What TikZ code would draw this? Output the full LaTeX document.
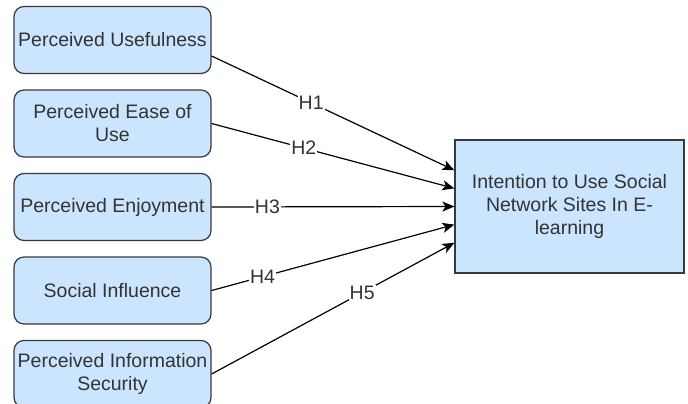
\documentclass[tikz,border=0pt]{standalone}
\usepackage{fontspec}
\setmainfont{Liberation Sans}
\usepackage{xcolor}
\usepackage{tikz}
\usetikzlibrary{arrows.meta, positioning, calc}
\definecolor{boxfill}{HTML}{CCE5FF}
\definecolor{boxline}{HTML}{36393D}
\definecolor{txt}{HTML}{333333}

\begin{document}
\begin{tikzpicture}[
  x=1pt, y=-1pt,
  node distance=15.3pt,
  every node/.style={font=\fontsize{19.5}{23}\selectfont, text=txt},
  construct/.style={
    rectangle, rounded corners=10pt,
    draw=boxline, fill=boxfill, line width=1.2pt,
    minimum width=197pt, minimum height=67pt,
    align=center, inner sep=2pt
  },
  outcome/.style={
    rectangle, draw=boxline, fill=boxfill, line width=1.2pt,
    minimum width=229pt, minimum height=133pt,
    align=center, inner sep=2pt
  },
  arr/.style={-{Stealth[length=12pt, width=10pt, inset=3pt]}, draw=black, line width=1.2pt},
  hyp/.style={fill=white, inner sep=1pt, text=txt}
]
\useasboundingbox (0,0) rectangle (688,404);

\node[construct] (pu) at (112.5,40) {Perceived Usefulness};
\node[construct, below=of pu]   (peou) {Perceived Ease of\\Use};
\node[construct, below=of peou] (pe)   {Perceived Enjoyment};
\node[construct, below=of pe]   (si)   {Social Influence};
\node[construct, below=of si]   (pis)  {Perceived Information\\Security};
\node[outcome] (int) at (569.5,206.5) {Intention to Use Social\\Network Sites In E-\\learning};

\draw[arr] ([yshift=-16pt]pu.east) -- ($(int.north west)!0.23!(int.south west)$)  node[hyp, pos=0.41] {H1};
\draw[arr] (peou.east) -- ($(int.north west)!0.365!(int.south west)$) node[hyp, pos=0.38] {H2};
\draw[arr] (pe.east)   -- ($(int.north west)!0.5!(int.south west)$)   node[hyp, pos=0.23] {H3};
\draw[arr] (si.east)   -- ($(int.north west)!0.635!(int.south west)$) node[hyp, pos=0.21] {H4};
\draw[arr] (pis.east)  -- ($(int.north west)!0.77!(int.south west)$)  node[hyp, pos=0.62] {H5};
\end{tikzpicture}
\end{document}
